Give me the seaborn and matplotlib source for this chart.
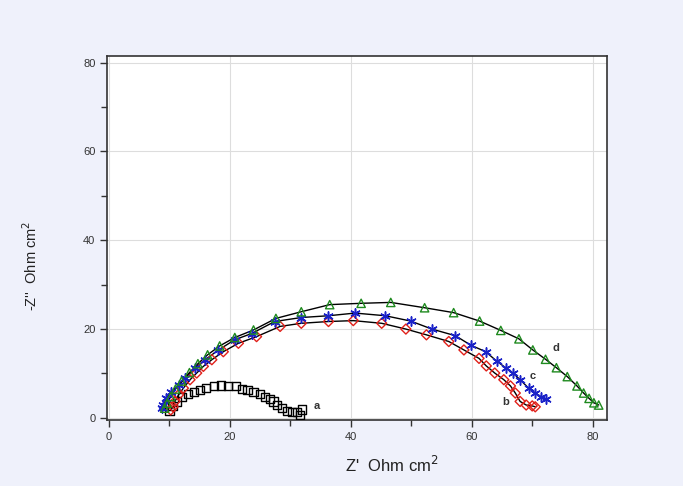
import matplotlib
matplotlib.use("Agg")
import matplotlib.pyplot as plt
import seaborn as sns
import pandas as pd
from matplotlib.ticker import MultipleLocator

sns.set_style("white")
plt.rcParams['font.family'] = ['Liberation Sans', 'DejaVu Sans']

# ---- data ----
a_x = [10.0, 10.5, 11.2, 12.0, 13.0, 14.0, 15.0, 16.1, 17.3, 18.5, 19.7, 21.0, 22.0, 22.9,
       23.9, 24.9, 25.8, 26.6, 27.2, 27.8, 28.6, 29.4, 30.2, 31.1, 31.9, 31.6]
a_y = [1.5, 2.6, 3.7, 4.8, 5.3, 5.8, 6.3, 6.8, 7.2, 7.3, 7.2, 7.1, 6.5, 6.2,
       5.8, 5.4, 4.8, 4.2, 3.7, 2.9, 2.2, 1.6, 1.4, 1.4, 1.9, 0.7]

b_x = [10.2, 10.6, 10.9, 11.5, 12.3, 13.4, 14.5, 15.6, 17.0, 18.9, 21.4, 24.4, 28.3, 31.8,
       36.3, 40.4, 45.1, 49.1, 52.5, 56.2, 58.7, 61.2, 62.4, 63.8, 65.3, 66.4, 67.2, 68.0,
       69.0, 70.0, 70.5]
b_y = [1.8, 2.5, 3.7, 5.2, 6.7, 8.6, 10.1, 11.6, 13.1, 14.9, 16.8, 18.3, 20.6, 21.3,
       21.7, 21.9, 21.3, 20.0, 18.7, 17.2, 15.3, 13.4, 11.7, 10.1, 8.6, 7.2, 5.6, 3.7,
       2.9, 2.7, 2.5]

c_x = [8.7, 9.0, 9.5, 10.3, 11.5, 12.6, 14.2, 15.9, 18.1, 20.8, 23.6, 27.4, 31.8, 36.3,
       40.7, 45.7, 49.9, 53.4, 57.3, 59.8, 62.3, 64.2, 65.7, 66.8, 68.0, 69.4, 70.5, 71.4, 72.2]
c_y = [2.2, 2.9, 4.4, 5.9, 7.4, 8.9, 11.2, 13.1, 15.3, 17.6, 19.0, 21.7, 22.6, 23.0,
       23.6, 23.0, 21.8, 20.0, 18.5, 16.4, 14.9, 12.7, 11.2, 10.1, 8.6, 6.7, 5.6, 4.8, 4.2]

d_x = [9.2, 9.6, 10.2, 11.0, 12.0, 13.3, 14.7, 16.3, 18.3, 20.8, 23.9, 27.6, 31.8, 36.5,
       41.7, 46.6, 52.2, 57.0, 61.3, 64.8, 67.8, 70.1, 72.2, 74.0, 75.8, 77.4, 78.5, 79.4,
       80.2, 81.0]
d_y = [2.2, 3.3, 4.8, 6.5, 8.3, 10.2, 12.2, 14.2, 16.2, 18.1, 19.8, 22.4, 23.9, 25.5,
       25.8, 26.0, 24.8, 23.7, 21.8, 19.7, 17.8, 15.3, 13.2, 11.3, 9.3, 7.2, 5.6, 4.4,
       3.4, 2.9]

labels = ["a", "b", "c", "d"]
label_pos_x = [33.9, 65.1, 69.6, 73.4]
label_pos_y = [2.7, 3.6, 9.5, 15.8]

# ---- figure ----
fig = plt.figure(figsize=(6.83, 4.86), dpi=100, facecolor="#eff1fb")
ax = fig.add_axes([0.157, 0.136, 0.732, 0.749])
ax.set_facecolor("white")

df_a = pd.DataFrame({"x": a_x, "y": a_y})
df_b = pd.DataFrame({"x": b_x, "y": b_y})
df_c = pd.DataFrame({"x": c_x, "y": c_y})
df_d = pd.DataFrame({"x": d_x, "y": d_y})

for df in (df_b, df_c, df_d):
    sns.lineplot(data=df, x="x", y="y", sort=False, color="black", lw=1.0, ax=ax, zorder=2)

sns.scatterplot(data=df_a, x="x", y="y", marker="s", s=34, facecolor="none",
                edgecolor="black", linewidth=1.0, ax=ax, zorder=3)
sns.scatterplot(data=df_b, x="x", y="y", marker="D", s=26, facecolor="none",
                edgecolor="#e0201a", linewidth=1.0, ax=ax, zorder=3)
sns.scatterplot(data=df_c, x="x", y="y", marker=(6, 2, 0), s=44,
                color="#1a22c8", linewidth=1.1, ax=ax, zorder=3)
sns.scatterplot(data=df_d, x="x", y="y", marker="^", s=36, facecolor="none",
                edgecolor="#1f8a1f", linewidth=1.0, ax=ax, zorder=3)

for lab, lx, ly in zip(labels, label_pos_x, label_pos_y):
    ax.text(lx, ly, lab, fontsize=8, color="#333333", ha="left", va="center", fontweight="bold")

ax.set_xlim(-0.3, 82.4)
ax.set_ylim(-0.45, 81.5)
ax.xaxis.set_major_locator(MultipleLocator(20))
ax.xaxis.set_minor_locator(MultipleLocator(10))
ax.yaxis.set_major_locator(MultipleLocator(20))
ax.yaxis.set_minor_locator(MultipleLocator(10))
ax.grid(True, which="major", color="#dddddd", lw=0.8)
ax.tick_params(which="both", direction="out", colors="#333333", labelsize=8,
               bottom=True, left=True)
ax.tick_params(which="major", length=5, width=1)
ax.tick_params(which="minor", length=4, width=1)
for sp in ax.spines.values():
    sp.set_color("#333333")
    sp.set_linewidth(1.2)

ax.set_xlabel("Z'  Ohm cm$^2$", fontsize=12, color="#222222")
ax.xaxis.set_label_coords(0.57, -0.095)
ax.set_ylabel("-Z''  Ohm cm$^2$", fontsize=10.5, color="#222222")
ax.yaxis.set_label_coords(-0.135, 0.423)

fig.savefig("out.png", dpi=100, facecolor=fig.get_facecolor())
